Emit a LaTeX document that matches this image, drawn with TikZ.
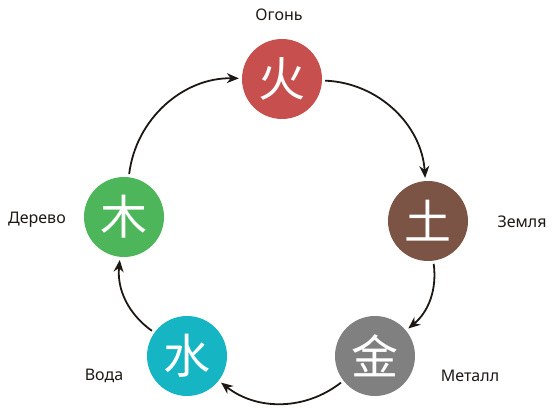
\documentclass[tikz,border=0pt]{standalone}
\usepackage{fontspec}
\setmainfont{Noto Sans}
\newfontfamily\cjk{Noto Sans CJK SC}
\usetikzlibrary{arrows.meta}
\definecolor{firec}{RGB}{199,80,79}
\definecolor{earthc}{RGB}{124,84,70}
\definecolor{metalc}{RGB}{128,128,128}
\definecolor{waterc}{RGB}{22,181,196}
\definecolor{woodc}{RGB}{78,182,90}
\definecolor{txt}{RGB}{30,24,20}
\begin{document}
\begin{tikzpicture}[x=1pt,y=1pt,
  elem/.style={circle,minimum size=80pt,inner sep=0pt,text=white,font=\cjk\fontsize{47}{47}\selectfont},
  lbl/.style={text=txt,font=\fontsize{16}{18}\selectfont,inner sep=0pt},
  flow/.style={draw=txt,line width=1.8pt,-{Stealth[length=12pt,width=10pt]},shorten >=3pt,shorten <=3pt}]
\useasboundingbox (0,0) rectangle (554,418);
\node[elem,fill=firec]  (fire)  at (282,339) {火};
\node[elem,fill=earthc] (earth) at (428,197) {土};
\node[elem,fill=metalc] (metal) at (375,62)  {金};
\node[elem,fill=waterc] (water) at (187,62)  {水};
\node[elem,fill=woodc]  (wood)  at (124,201) {木};
\node[lbl] (lfire)  at (279,403) {Огонь};
\node[lbl] (learth) at (522,196) {Земля};
\node[lbl] (lmetal) at (470,42)  {Металл};
\node[lbl] (lwater) at (104,42)  {Вода};
\node[lbl] (lwood)  at (37,198)  {Дерево};
\draw[flow] (fire)  to[bend left=42] (earth);
\draw[flow] (earth) to[bend left=29] (metal);
\draw[flow] (metal) to[bend left=38] (water);
\draw[flow] (water) to[bend left=30] (wood);
\draw[flow] (wood)  to[bend left=42] (fire);
\end{tikzpicture}
\end{document}
